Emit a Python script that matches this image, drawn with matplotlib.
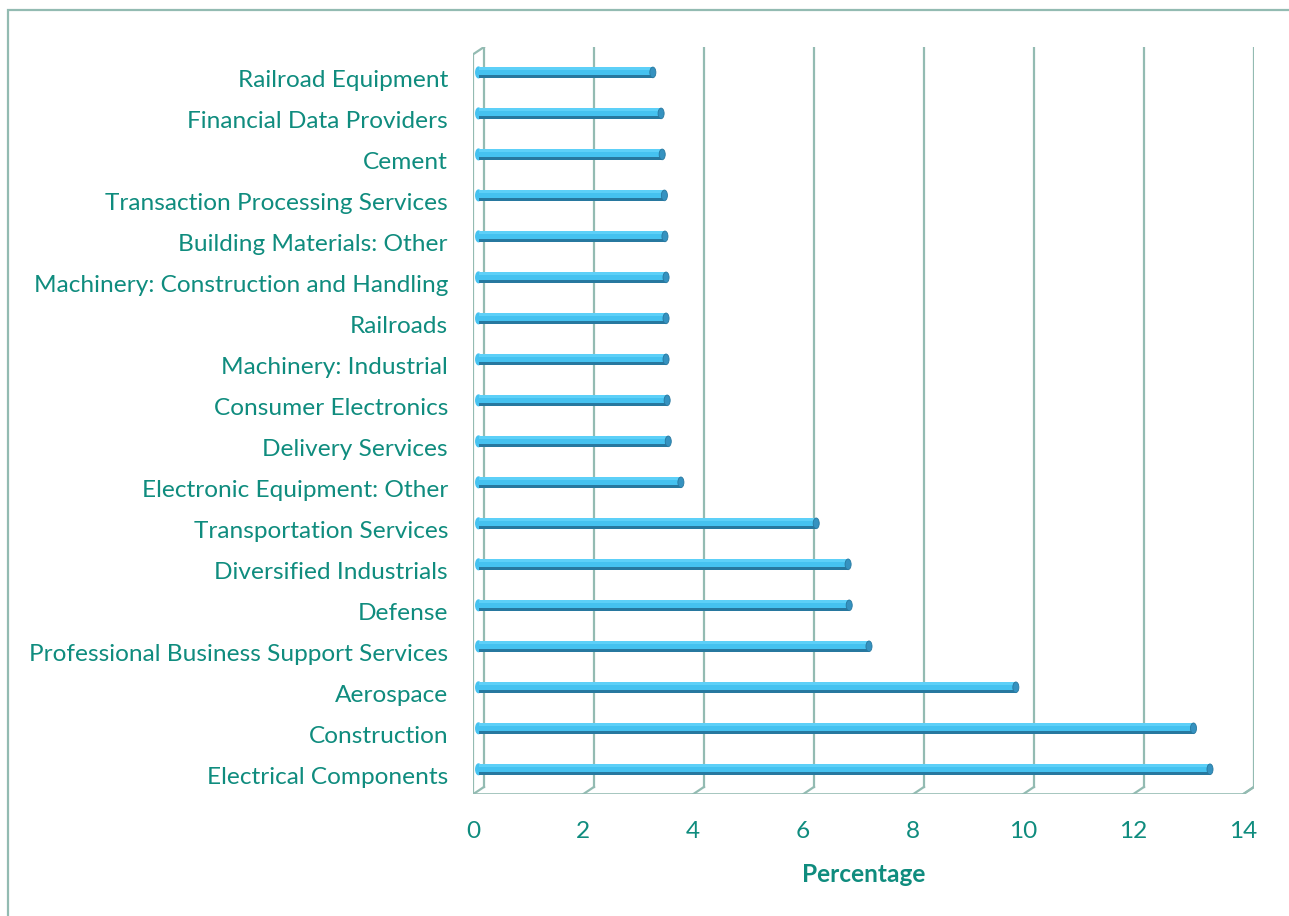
import matplotlib
matplotlib.use('Agg')
import matplotlib.pyplot as plt
from matplotlib.patches import Ellipse, Rectangle

plt.rcParams['font.family'] = ['Lato', 'DejaVu Sans']

# 类别和数值（从下到上）
categories = ['Electrical Components', 'Construction', 'Aerospace',
              'Professional Business Support Services', 'Defense',
              'Diversified Industrials', 'Transportation Services',
              'Electronic Equipment: Other', 'Delivery Services',
              'Consumer Electronics', 'Machinery: Industrial', 'Railroads',
              'Machinery: Construction and Handling', 'Building Materials: Other',
              'Transaction Processing Services', 'Cement',
              'Financial Data Providers', 'Railroad Equipment']
values = [13.3, 13.0, 9.77, 7.1, 6.74, 6.72, 6.14, 3.68, 3.45,
          3.43, 3.41, 3.41, 3.41, 3.39, 3.38, 3.34, 3.32, 3.17]
x_ticks = [0, 2, 4, 6, 8, 10, 12, 14]

text_color = '#0F8C7E'
frame_color = '#93BBB2'
bar_light = '#45C2F0'
bar_dark = '#27789F'

fig = plt.figure(figsize=(12.89, 9.16), dpi=100)
ax = fig.add_axes([473 / 1289, 1 - 794.3 / 916, 781 / 1289, 747.3 / 916])

# 3D 效果的前后偏移
dx, dy = 0.1, 0.09
y_floor = -0.52
y_top = 17.53
xmax = 14

# 背面网格线
for v in x_ticks:
    ax.plot([v + dx, v + dx], [y_floor + dy, y_top + dy], color=frame_color, lw=1.6, zorder=1)
    ax.plot([v + dx, v - dx], [y_floor + dy, y_floor - dy], color=frame_color, lw=1.6, zorder=1)
# 左墙前沿
ax.plot([-dx, -dx, dx], [y_floor - dy, y_top - dy, y_top + dy], color=frame_color, lw=1.6, zorder=1)
# 底面前沿
ax.plot([-dx, xmax - dx, xmax + dx], [y_floor - dy, y_floor - dy, y_floor + dy],
        color=frame_color, lw=1.6, zorder=1)

# 圆柱形条
h = 0.26
for i, v in enumerate(values):
    ax.barh(i, v, height=h, left=0, color=bar_light, edgecolor='none', zorder=3)
    ax.barh(i + h / 2 - 0.04, v, height=0.06, left=0, color='#5DD0F8', edgecolor='none', zorder=4)
    ax.barh(i - h / 2 + 0.035, v, height=0.07, left=0, color=bar_dark, edgecolor='none', zorder=4)
    ax.add_patch(Ellipse((0, i), 0.1, h, color=bar_light, zorder=2))
    ax.add_patch(Ellipse((v, i), 0.11, h, facecolor='#3592C0', edgecolor=bar_dark, lw=0.6, zorder=5))

ax.set_xlim(-dx, xmax + dx)
ax.set_ylim(y_floor - dy, y_top + dy)

ax.set_yticks([i - 0.15 for i in range(len(categories))])
ax.set_yticklabels(categories, fontsize=17.6, color=text_color)
ax.set_xticks([v - dx for v in x_ticks])
ax.set_xticklabels([str(v) for v in x_ticks], fontsize=17.6, color=text_color)
ax.tick_params(axis='y', length=0, pad=18)
ax.tick_params(axis='x', length=0, pad=19)
ax.set_xlabel('Percentage', fontsize=17.6, fontweight='bold', color=text_color, labelpad=15)
for s in ax.spines.values():
    s.set_visible(False)

# 外框
fig.patches.append(Rectangle((8 / 1289, -0.1), 2, 1.1 - 10 / 916, transform=fig.transFigure,
                             fill=False, edgecolor=frame_color, lw=1.6))

fig.savefig('out.png', dpi=100)
